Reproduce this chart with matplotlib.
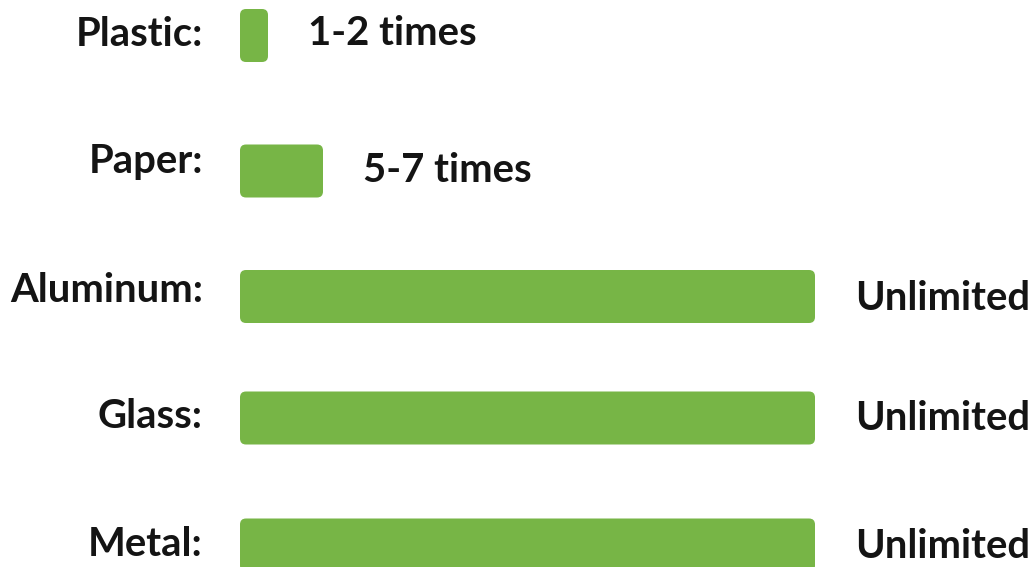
import matplotlib
matplotlib.use("Agg")
import matplotlib.pyplot as plt
from matplotlib.patches import FancyBboxPatch

categories = ["Plastic:", "Paper:", "Aluminum:", "Glass:", "Metal:"]
bar_lengths = [28, 83, 575, 575, 575]   # relative recyclability (drawn length)
value_labels = ["1-2 times", "5-7 times", "Unlimited", "Unlimited", "Unlimited"]

# layout (pixel rows, top-down)
y_positions = [35.5, 171, 296.5, 418, 545]
label_baselines = [46, 173, 302, 428, 556]
value_baselines = [45, 182, 310, 430, 558]

GREEN = "#77b546"
TEXT = "#141414"

fig = plt.figure(figsize=(10.30, 5.67), dpi=100)
ax = fig.add_axes([0, 0, 1, 1])
ax.set_xlim(-240, 790)
ax.set_ylim(567, 0)
ax.axis("off")

bars = ax.barh(y_positions, bar_lengths, height=53, color=GREEN)
for b in bars:
    x0, y0 = b.get_x(), b.get_y()
    w, h = b.get_width(), b.get_height()
    b.remove()
    ax.add_patch(FancyBboxPatch((x0 + 6, y0 + 6), w - 12, h - 12,
                                boxstyle="round,pad=6", linewidth=0,
                                facecolor=GREEN))

font = dict(family=["Lato", "DejaVu Sans"], weight="bold", fontsize=28.8, color=TEXT)
for ly, vy, cat, w, val in zip(label_baselines, value_baselines, categories,
                               bar_lengths, value_labels):
    ax.text(-37, ly, cat, ha="right", va="baseline", **font)
    ax.text(w + 40, vy, val, ha="left", va="baseline", **font)

fig.savefig("out.png", dpi=100, facecolor="white")
